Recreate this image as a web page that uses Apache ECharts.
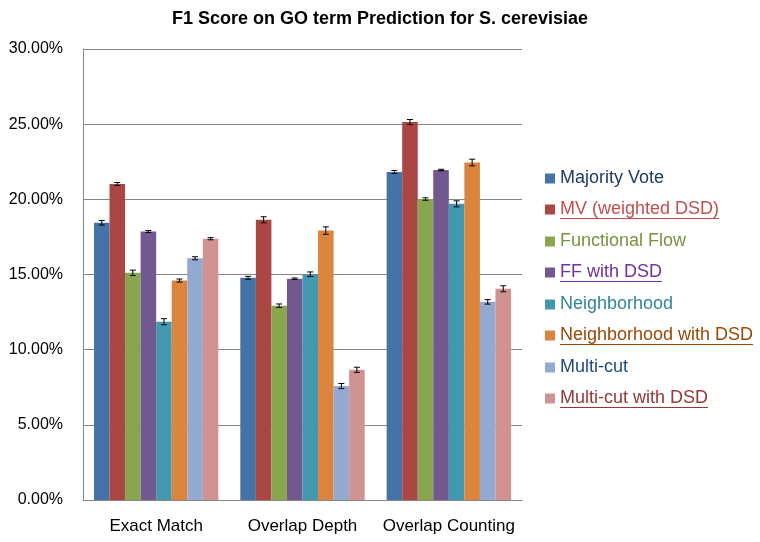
<!DOCTYPE html>
<html><head><meta charset="utf-8">
<script src="https://cdn.jsdelivr.net/npm/echarts@6/dist/echarts.min.js"></script>
<style>html,body{margin:0;padding:0;background:#fff}#c{width:760px;height:542px}</style>
</head><body><div id="c"></div>
<script>
var categories = ['Exact Match', 'Overlap Depth', 'Overlap Counting'];
var seriesNames = ['Majority Vote', 'MV (weighted DSD)', 'Functional Flow', 'FF with DSD', 'Neighborhood', 'Neighborhood with DSD', 'Multi-cut', 'Multi-cut with DSD'];
var majorityVote = [18.44, 14.78, 21.82];
var mvWeighted = [21.02, 18.64, 25.14];
var functionalFlow = [15.11, 12.92, 20.02];
var ffWithDSD = [17.86, 14.72, 21.95];
var neighborhood = [11.86, 15.02, 19.70];
var neighborhoodDSD = [14.60, 17.92, 22.45];
var multiCut = [16.08, 7.58, 13.18];
var multiCutDSD = [17.38, 8.66, 14.05];
var err_majorityVote = [0.15, 0.10, 0.10];
var err_mvWeighted = [0.10, 0.20, 0.17];
var err_functionalFlow = [0.18, 0.12, 0.08];
var err_ffWithDSD = [0.07, 0.05, 0.05];
var err_neighborhood = [0.20, 0.15, 0.20];
var err_neighborhoodDSD = [0.10, 0.25, 0.22];
var err_multiCut = [0.10, 0.17, 0.15];
var err_multiCutDSD = [0.07, 0.17, 0.20];
var yTicks = [0, 5, 10, 15, 20, 25, 30];

var values = [majorityVote, mvWeighted, functionalFlow, ffWithDSD, neighborhood, neighborhoodDSD, multiCut, multiCutDSD];
var errors = [err_majorityVote, err_mvWeighted, err_functionalFlow, err_ffWithDSD, err_neighborhood, err_neighborhoodDSD, err_multiCut, err_multiCutDSD];
var colors = ['#4572A7', '#AA4643', '#89A54E', '#71588F', '#4198AF', '#DB843D', '#93A9CF', '#D19392'];
var textColors = ['#1F3A64', '#C0504D', '#76923C', '#7030A0', '#31849B', '#984806', '#1F497D', '#953735'];
var underlined = [false, true, false, true, false, true, false, true];
var catGap = 0.15;

function lineImg(color) {
  var c = document.createElement('canvas');
  c.width = 4; c.height = 40;
  var g = c.getContext('2d');
  g.fillStyle = color;
  g.fillRect(0, 38, 4, 2);
  return c;
}

var chart = echarts.init(document.getElementById('c'), null, {renderer: 'canvas'});
var series = [];
var legendData = [];
var FONT = '"Liberation Sans", Arial, sans-serif';
var LFS = 18;
seriesNames.forEach(function (name, i) {
  series.push({
    name: name, type: 'bar', data: values[i], barGap: '0%', barCategoryGap: (catGap * 100) + '%',
    itemStyle: {color: colors[i]}, animation: false
  });
  var rich = {};
  rich['t'] = {color: textColors[i], fontSize: LFS, fontFamily: FONT, padding: [0, 0, 1, 0]};
  if (underlined[i]) {
    rich['t'].backgroundColor = {image: lineImg(textColors[i])};
  }
  legendData.push({name: name, textStyle: {color: textColors[i], rich: rich}});
});
// error bars
seriesNames.forEach(function (name, i) {
  var d = values[i].map(function (v, k) { return [k, v - errors[i][k], v + errors[i][k]]; });
  series.push({
    type: 'custom', name: name + '_err', data: d, z: 10, animation: false, silent: true,
    encode: {x: 0, y: [1, 2]},
    renderItem: function (params, api) {
      var k = api.value(0);
      var band = api.size([1, 0])[0];
      var groupW = band * (1 - catGap);
      var bw = groupW / seriesNames.length;
      var center = api.coord([k, 0])[0];
      var x = center - groupW / 2 + (i + 0.5) * bw;
      var lo = api.coord([k, api.value(1)])[1];
      var hi = api.coord([k, api.value(2)])[1];
      var cap = 3;
      var st = {stroke: '#000', lineWidth: 1};
      return {type: 'group', children: [
        {type: 'line', shape: {x1: x, y1: lo, x2: x, y2: hi}, style: st},
        {type: 'line', shape: {x1: x - cap, y1: lo, x2: x + cap, y2: lo}, style: st},
        {type: 'line', shape: {x1: x - cap, y1: hi, x2: x + cap, y2: hi}, style: st}
      ]};
    }
  });
});

chart.setOption({
  animation: false,
  backgroundColor: '#fff',
  title: {
    text: 'F1 Score on GO term Prediction for S. cerevisiae', left: 'center', top: 5,
    textStyle: {fontFamily: FONT, fontSize: 18, fontWeight: 'bold', color: '#000'}
  },
  legend: {
    orient: 'vertical', left: 540, top: 164, itemGap: 13, itemWidth: 10, itemHeight: 10,
    icon: 'rect', data: legendData,
    formatter: function (n) { return '{t|' + n + '}'; },
    textStyle: {fontSize: LFS, fontFamily: FONT}
  },
  grid: {left: 83, right: 238, top: 49, bottom: 42, containLabel: false},
  xAxis: {
    type: 'category', data: categories,
    axisLine: {lineStyle: {color: '#868686'}}, axisTick: {show: false},
    axisLabel: {interval: 0, fontSize: 17, fontFamily: FONT, color: '#000', margin: 18}
  },
  yAxis: {
    type: 'value', min: yTicks[0], max: yTicks[yTicks.length - 1], interval: 5,
    axisLine: {show: true, lineStyle: {color: '#868686'}}, axisTick: {show: false},
    splitLine: {lineStyle: {color: '#868686'}},
    axisLabel: {fontSize: 16, fontFamily: FONT, color: '#000', margin: 20,
      formatter: function (v) { return v.toFixed(2) + '%'; }}
  },
  series: series
});
</script></body></html>
